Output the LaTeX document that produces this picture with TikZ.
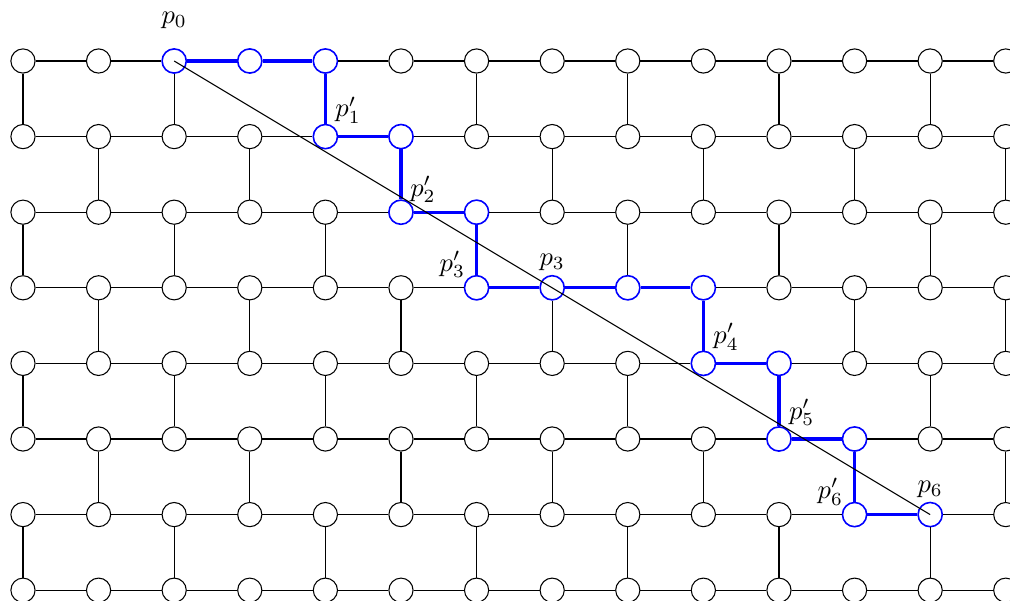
\documentclass[tikz,border=0pt]{standalone}
\usepackage{amsmath,amssymb}
\usepackage{tikz}
\usetikzlibrary{positioning,calc}

\tikzset{
	hl/.style={draw=blue, semithick},
	hl_2_0/.style=hl, hl_3_0/.style=hl, hl_4_0/.style=hl, hl_4_1/.style=hl,
	hl_5_1/.style=hl, hl_5_2/.style=hl, hl_6_2/.style=hl, hl_6_3/.style=hl,
	hl_7_3/.style=hl, hl_8_3/.style=hl, hl_9_3/.style=hl, hl_9_4/.style=hl,
	hl_10_4/.style=hl, hl_10_5/.style=hl, hl_11_5/.style=hl, hl_11_6/.style=hl,
	hl_12_6/.style=hl
}

\begin{document}
\begin{tikzpicture}[-, scale=1.0, every node/.style={scale=1.0},
	vert/.style={circle, draw, minimum size=3.2mm, inner sep=0pt},
	path_on/.style={draw=blue, very thick}]

	\useasboundingbox (-0.304,-7.143) rectangle (13.056,0.807);

	% vertices of the grid
	\foreach \c in {0,...,13}
		\foreach \r in {0,...,7}
			\node[vert, hl_\c_\r/.try, shift = {(\c, -\r)}] (v_\c_\r) {};

	% horizontal edges
	\foreach \c [evaluate = \c as \n using int(\c+1)] in {0,...,12}
		\foreach \r in {0,...,7}
			\path (v_\c_\r) edge [] (v_\n_\r);

	% vertical edges (brick pattern)
	\foreach \r [evaluate = \r as \n using int(\r+1),
	             evaluate = \r as \s using {int(mod(\r,2))},
	             evaluate = \r as \t using {int(mod(\r,2)+2)}] in {0,...,6}
		\foreach \c in {\s,\t,...,13}
			\path (v_\c_\r) edge [] (v_\c_\n);

	% shortest path
	\path[path_on] (v_2_0) -- (v_3_0) -- (v_4_0) -- (v_4_1) -- (v_5_1) -- (v_5_2)
		-- (v_6_2) -- (v_6_3) -- (v_7_3) -- (v_8_3) -- (v_9_3) -- (v_9_4)
		-- (v_10_4) -- (v_10_5) -- (v_11_5) -- (v_11_6) -- (v_12_6);

	% straight line
	\draw (v_2_0.center) -- (v_12_6.center);

	\node[shift = {(2.0, 0.54)}] (lbl_p0) {$p_0$};
	\node[shift = {(4.30, -0.65)}] (lbl_p1) {$p'_1$};
	\node[shift = {(5.29, -1.70)}] (lbl_p2) {$p'_2$};
	\node[shift = {(5.68, -2.69)}] (lbl_p3a) {$p'_3$};
	\node[shift = {(7.0, -2.67)}] (lbl_p3) {$p_3$};
	\node[shift = {(9.30, -3.65)}] (lbl_p4) {$p'_4$};
	\node[shift = {(10.30, -4.65)}] (lbl_p5) {$p'_5$};
	\node[shift = {(10.68, -5.70)}] (lbl_p6a) {$p'_6$};
	\node[shift = {(12.0, -5.67)}] (lbl_p6) {$p_6$};
\end{tikzpicture}
\end{document}
